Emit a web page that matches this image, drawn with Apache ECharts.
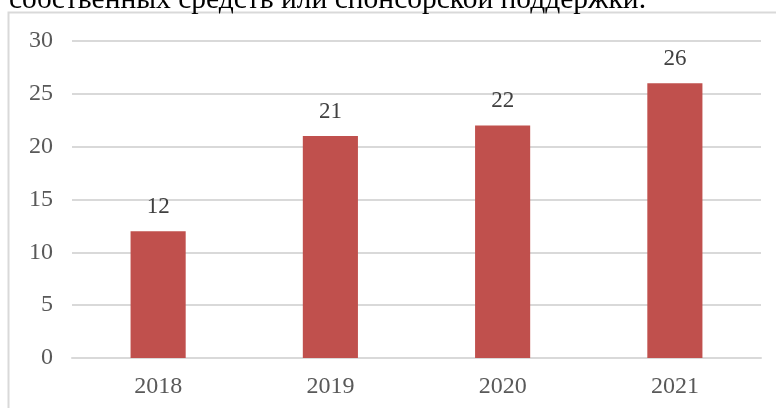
<!DOCTYPE html>
<html><head><meta charset="utf-8">
<script src="https://cdn.jsdelivr.net/npm/echarts@6/dist/echarts.min.js"></script>
<style>html,body{margin:0;padding:0;background:#fff}#c{width:776px;height:408px}</style>
</head><body><div id="c"></div>
<script>
const categories = ['2018', '2019', '2020', '2021'];
const values = [12, 21, 22, 26];
const yTicks = [0, 5, 10, 15, 20, 25, 30];
const captionText = 'собственных средств или спонсорской поддержки.';

const chart = echarts.init(document.getElementById('c'), null, {renderer: 'canvas'});
const serif = '"Liberation Serif", "Times New Roman", serif';
chart.setOption({
  animation: false,
  backgroundColor: '#fff',
  graphic: [
    {type: 'rect', shape: {x: 8.5, y: 12.5, width: 800, height: 420}, style: {fill: 'none', stroke: '#d9d9d9', lineWidth: 2}, z: -1},
    {type: 'text', left: 9, top: -15, style: {text: captionText, font: '29.5px ' + serif, fill: '#000'}}
  ],
  grid: {left: 72, right: 15, top: 41, bottom: 50},
  xAxis: {
    type: 'category', data: categories,
    axisLine: {show: true, lineStyle: {color: '#d9d9d9', width: 2}},
    axisTick: {show: false},
    axisLabel: {color: '#595959', fontFamily: serif, fontSize: 24, margin: 17}
  },
  yAxis: {
    type: 'value', min: yTicks[0], max: yTicks[yTicks.length - 1], interval: 5,
    axisLine: {show: false}, axisTick: {show: false},
    splitLine: {lineStyle: {color: '#d9d9d9', width: 2}},
    axisLabel: {color: '#595959', fontFamily: serif, fontSize: 24, margin: 19}
  },
  series: [{
    type: 'bar', data: values, barWidth: '32%',
    itemStyle: {color: '#C0504D'},
    label: {show: true, position: 'top', distance: 13, color: '#404040', fontFamily: serif, fontSize: 23}
  }]
});
</script></body></html>
